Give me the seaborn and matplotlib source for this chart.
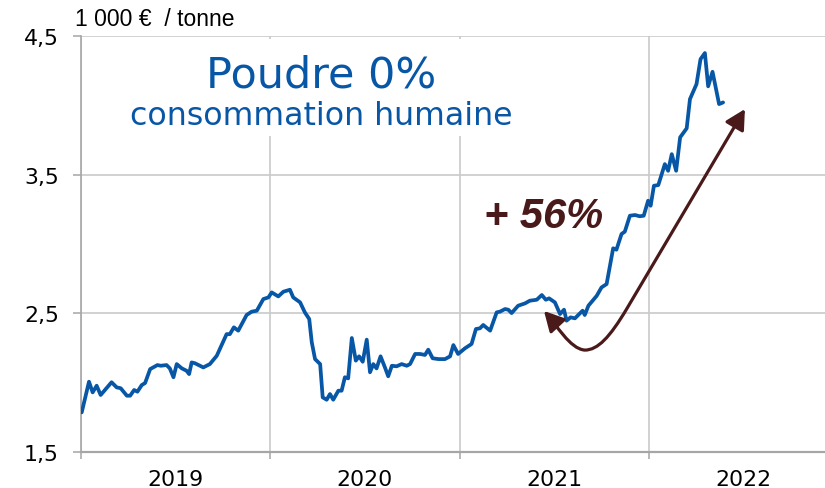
import matplotlib
matplotlib.use('Agg')
import matplotlib.pyplot as plt
import seaborn as sns
from matplotlib.path import Path
from matplotlib.patches import FancyArrowPatch, Rectangle

# weeks since 1 Jan 2019 and price in 1 000 EUR / tonne
weeks = [0.2, 2.2, 3.2, 4.3, 5.4, 8.4, 9.8, 10.9, 12.6, 13.5,
         14.6, 15.5, 16.7, 17.6, 19.0, 21.0, 21.9, 23.5, 24.4, 25.4,
         26.3, 27.7, 29.0, 29.7, 30.4, 31.3, 33.6, 35.4, 37.3, 40.0,
         40.9, 42.0, 43.2, 45.5, 46.9, 48.3, 50.1, 51.5, 52.4, 54.2,
         55.6, 57.4, 58.3, 60.2, 61.5, 62.7, 63.4, 64.3, 65.7, 66.4,
         67.5, 68.4, 69.3, 70.7, 71.6, 72.5, 73.4, 74.4, 75.5, 76.4,
         77.4, 78.5, 79.4, 80.3, 81.2, 82.3, 83.5, 84.4, 85.4, 86.7,
         88.1, 89.5, 90.4, 91.8, 93.1, 94.5, 95.4, 96.6, 98.2, 100.0,
         101.4, 102.3, 103.6, 105.5, 107.3, 108.5, 109.6, 110.5, 112.4, 114.2,
         115.1, 116.5, 117.4, 118.3, 120.1, 122.0, 123.3, 125.2, 126.6, 127.7,
         128.6, 130.2, 131.6, 132.7, 133.4, 134.5, 135.7, 137.8, 138.4, 139.4,
         141.7, 143.0, 144.4, 146.2, 147.1, 148.5, 149.4, 150.8, 152.2, 153.5,
         154.6, 155.8, 156.5, 157.4, 158.6, 160.4, 161.3, 162.3, 163.5, 164.6,
         166.4, 167.3, 169.1, 170.2, 171.4, 172.3, 173.5, 175.3, 176.4]

price = [1.786, 2.007, 1.930, 1.978, 1.911, 2.003, 1.966, 1.960, 1.906, 1.906,
         1.947, 1.935, 1.983, 1.997, 2.098, 2.127, 2.122, 2.127, 2.103, 2.039,
         2.134, 2.103, 2.086, 2.062, 2.146, 2.140, 2.110, 2.134, 2.194, 2.350,
         2.350, 2.399, 2.375, 2.488, 2.512, 2.519, 2.603, 2.615, 2.651, 2.622,
         2.656, 2.670, 2.615, 2.579, 2.507, 2.459, 2.291, 2.170, 2.134, 1.894,
         1.877, 1.918, 1.877, 1.942, 1.942, 2.039, 2.031, 2.322, 2.159, 2.190,
         2.151, 2.310, 2.075, 2.134, 2.103, 2.190, 2.110, 2.046, 2.122, 2.118,
         2.134, 2.122, 2.134, 2.207, 2.207, 2.200, 2.238, 2.176, 2.170, 2.170,
         2.190, 2.271, 2.207, 2.248, 2.279, 2.387, 2.392, 2.416, 2.375, 2.507,
         2.512, 2.531, 2.526, 2.502, 2.555, 2.572, 2.591, 2.598, 2.632, 2.598,
         2.608, 2.579, 2.495, 2.526, 2.447, 2.471, 2.464, 2.519, 2.488, 2.555,
         2.627, 2.687, 2.711, 2.969, 2.959, 3.072, 3.089, 3.204, 3.209, 3.200,
         3.204, 3.312, 3.276, 3.420, 3.425, 3.576, 3.528, 3.648, 3.528, 3.769,
         3.834, 4.045, 4.153, 4.333, 4.377, 4.137, 4.242, 4.009, 4.021]

years = ["2019", "2020", "2021", "2022"]
year_starts = [0, 52, 104, 156]
y_ticks = [1.5, 2.5, 3.5, 4.5]
y_labels = ["1,5", "2,5", "3,5", "4,5"]

BLUE = "#0757A6"
BROWN = "#4A1A1A"
GRID = "#CACACA"
AXIS = "#A6A6A6"

sns.set_theme(style="white")
plt.rcParams['font.family'] = ['DejaVu Sans']

fig = plt.figure(figsize=(8.25, 4.89), dpi=100)
fig.patch.set_facecolor("#fff")
ax = fig.add_axes([81 / 825, 36 / 489, 744 / 825, 416 / 489])

sns.lineplot(x=weeks, y=price, color=BLUE, linewidth=2.7, ax=ax, zorder=3)

ax.set_xlim(0, 204.4)
ax.set_ylim(1.5, 4.5)

ax.set_yticks(y_ticks)
ax.set_yticklabels(y_labels)
ax.set_xticks(year_starts)
ax.set_xticklabels([])
ax.set_xticks([s + 26 for s in year_starts], minor=True)
ax.set_xticklabels(years, minor=True)

ax.tick_params(axis="y", which="major", direction="out", length=6, width=1.1,
               color=AXIS, labelsize=15.8, labelcolor="#000", pad=10, left=True)
ax.tick_params(axis="x", which="major", direction="out", length=5, width=1.1,
               color=AXIS, bottom=True)
ax.tick_params(axis="x", which="minor", length=0, labelsize=15.8,
               labelcolor="#000", pad=12)

ax.set_axisbelow(True)
ax.grid(True, which="major", color=GRID, linewidth=1.2)

for side in ["top", "right"]:
    ax.spines[side].set_visible(False)
ax.spines["left"].set_color(AXIS)
ax.spines["left"].set_linewidth(1.2)
ax.spines["bottom"].set_color(AXIS)
ax.spines["bottom"].set_linewidth(1.6)
ax.set_xlabel("")
ax.set_ylabel("")

# white panel behind the title
ax.add_patch(Rectangle((12, 3.78), 108.6, 0.70, facecolor="#fff",
                       edgecolor="none", zorder=1))

# curved double arrow
verts = [(127.2, 2.517),
         (130.5, 2.423), (134.3, 2.243), (138.4, 2.235),
         (142.0, 2.235), (145.3, 2.329), (149.9, 2.531),
         (182.4, 3.973)]
codes = [Path.MOVETO,
         Path.CURVE4, Path.CURVE4, Path.CURVE4,
         Path.CURVE4, Path.CURVE4, Path.CURVE4,
         Path.LINETO]
arrow = FancyArrowPatch(path=Path(verts, codes),
                        arrowstyle="<|-|>,head_length=0.6,head_width=0.32",
                        mutation_scale=20, color=BROWN, linewidth=2.3,
                        transform=ax.transData, zorder=4)
ax.add_patch(arrow)

fig.text(321 / 825, 1 - 87 / 489, "Poudre 0%", color=BLUE, fontsize=31,
         ha="center", va="baseline")
fig.text(321 / 825, 1 - 125 / 489, "consommation humaine", color=BLUE,
         fontsize=22.8, ha="center", va="baseline")
fig.text(544 / 825, 1 - 228 / 489, "+ 56%", color=BROWN, fontsize=30,
         family=["Liberation Sans", "DejaVu Sans"], fontweight="bold",
         fontstyle="italic", ha="center", va="baseline")
fig.text(75 / 825, 1 - 26 / 489, "1 000 €  / tonne", color="#000",
         fontsize=16.5, family=["Liberation Sans", "DejaVu Sans"],
         ha="left", va="baseline")

fig.savefig("out.png", dpi=100, facecolor="#fff")
